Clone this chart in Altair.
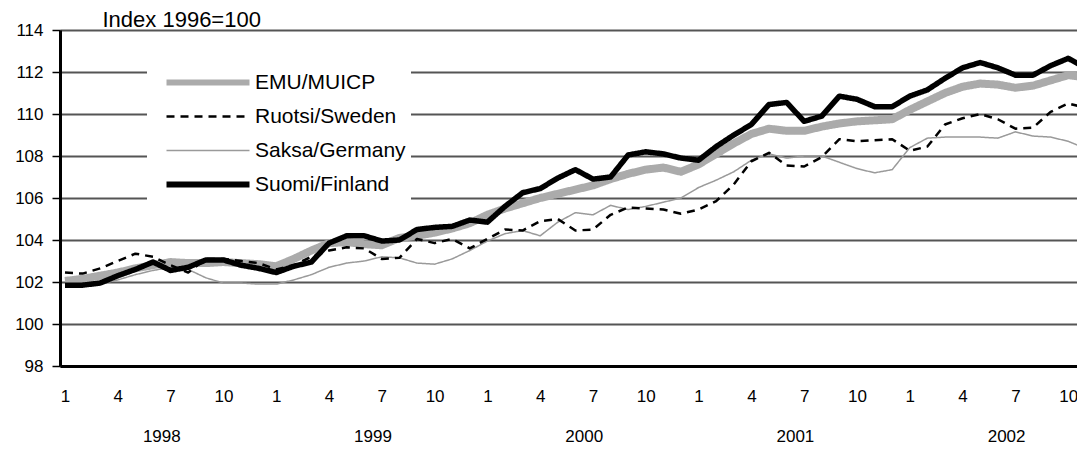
import altair as alt
import pandas as pd

series_names = ["EMU/MUICP", "Ruotsi/Sweden", "Saksa/Germany", "Suomi/Finland"]
years = [1998, 1999, 2000, 2001, 2002]
month_labels = [1, 4, 7, 10]
y_ticks = [98, 100, 102, 104, 106, 108, 110, 112, 114]

# monthly values Jan 1998 .. Nov 2002
emu = [102.05, 102.15, 102.3, 102.45, 102.65, 102.8, 102.95, 102.9, 102.9, 102.95, 102.9, 102.85,
       102.75, 103.1, 103.5, 103.85, 103.9, 103.8, 103.75, 104.1, 104.2, 104.35, 104.55, 104.8,
       105.2, 105.5, 105.75, 106.0, 106.2, 106.4, 106.6, 106.9, 107.15, 107.35, 107.45, 107.25,
       107.6, 108.1, 108.6, 109.05, 109.3, 109.2, 109.2, 109.4, 109.55, 109.65, 109.7, 109.75,
       110.2, 110.6, 111.0, 111.3, 111.45, 111.4, 111.25, 111.35, 111.6, 111.85, 111.75]
sweden = [102.45, 102.4, 102.65, 103.0, 103.35, 103.2, 102.8, 102.45, 103.1, 103.1, 103.0, 102.9,
          102.6, 102.8, 103.2, 103.5, 103.65, 103.6, 103.1, 103.15, 104.05, 103.85, 104.05, 103.6,
          104.05, 104.5, 104.45, 104.9, 105.0, 104.45, 104.5, 105.2, 105.55, 105.5, 105.45, 105.25,
          105.45, 105.85, 106.65, 107.75, 108.15, 107.55, 107.5, 107.95, 108.8, 108.7, 108.75, 108.8,
          108.25, 108.45, 109.5, 109.8, 110.0, 109.75, 109.3, 109.35, 110.1, 110.5, 110.3]
germany = [101.9, 101.85, 101.9, 102.1, 102.35, 102.55, 102.7, 102.6, 102.2, 101.95, 101.95, 101.9,
           101.9, 102.1, 102.35, 102.7, 102.9, 103.0, 103.2, 103.15, 102.9, 102.85, 103.1, 103.5,
           103.95, 104.3, 104.45, 104.2, 104.85, 105.3, 105.2, 105.65, 105.45, 105.6, 105.8, 106.0,
           106.5, 106.85, 107.25, 107.8, 108.1, 107.9, 108.0, 108.0, 107.7, 107.4, 107.2, 107.35,
           108.4, 108.85, 108.9, 108.9, 108.9, 108.85, 109.15, 108.95, 108.9, 108.7, 108.35]
finland = [101.85, 101.85, 101.95, 102.3, 102.6, 102.95, 102.55, 102.7, 103.05, 103.05, 102.8, 102.65,
           102.45, 102.75, 102.95, 103.85, 104.2, 104.2, 103.95, 104.0, 104.5, 104.6, 104.65, 104.95,
           104.85, 105.6, 106.25, 106.45, 106.95, 107.35, 106.9, 107.0, 108.05, 108.2, 108.1, 107.9,
           107.8, 108.45, 109.0, 109.5, 110.45, 110.55, 109.65, 109.9, 110.85, 110.7, 110.35, 110.35,
           110.85, 111.15, 111.7, 112.2, 112.45, 112.2, 111.85, 111.85, 112.3, 112.65, 112.2]

colors = ["#ababab", "#000000", "#9a9a9a", "#000000"]
dashes = [[1, 0], [8, 6], [1, 0], [1, 0]]
widths = [8, 2.5, 1.5, 5.5]
legend_widths = [6, 2.5, 1.5, 6]
draw_order = ["EMU/MUICP", "Saksa/Germany", "Ruotsi/Sweden", "Suomi/Finland"]

rows = []
for name, vals in zip(series_names, [emu, sweden, germany, finland]):
    for i, v in enumerate(vals):
        rows.append({"t": i, "value": v, "series": name})
df = pd.DataFrame(rows)

W, H = 1017, 336
FONT = "Liberation Sans"

names_js = "[" + ",".join("'" + s + "'" for s in series_names) + "]"
widths_js = "[" + ",".join(str(w) for w in legend_widths) + "]"
width_expr = "(" + widths_js + "[indexof(" + names_js + ", datum.value)] || 3)"

legend = alt.Legend(
    title=None, orient="none", legendX=87, legendY=37,
    fillColor="white", padding=5, symbolType="stroke", symbolSize=6889,
    symbolOffset=13, clipHeight=21,
    labelFontSize=21, labelFont=FONT, labelColor="black", labelOffset=4,
    rowPadding=12, symbolStrokeWidth=alt.ExprRef(expr=width_expr),
)

x_scale = alt.Scale(domain=[-0.284, 57.5], nice=False, zero=False)
y_scale = alt.Scale(domain=[98, 114], nice=False, zero=False)

base = alt.Chart(df).encode(
    x=alt.X("t:Q", scale=x_scale,
            axis=alt.Axis(title=None, values=list(range(0, 58, 3)),
                          labelExpr="[" + ",".join(str(m) for m in month_labels) + "][(datum.value % 12) / 3]",
                          ticks=False, grid=False, domainColor="black", domainWidth=3,
                          labelFontSize=17, labelFont=FONT, labelColor="black",
                          labelPadding=22, labelBaseline="top", labelFlush=False)),
    y=alt.Y("value:Q", scale=y_scale,
            axis=alt.Axis(title="Index 1996=100", titleAngle=0, titleAlign="left",
                          titleX=42, titleY=-4, titleBaseline="alphabetic",
                          titleFontSize=22, titleFontWeight="normal", titleFont=FONT, titleColor="black",
                          values=y_ticks, labelFontSize=17, labelFont=FONT, labelColor="black",
                          tickColor="black", tickSize=8, tickWidth=1.5, labelPadding=9,
                          domainColor="black", domainWidth=3,
                          grid=True, gridColor="#555555", gridWidth=2)),
    color=alt.Color("series:N", scale=alt.Scale(domain=series_names, range=colors), legend=legend),
    strokeDash=alt.StrokeDash("series:N", scale=alt.Scale(domain=series_names, range=dashes), legend=legend),
)

layers = []
for name in draw_order:
    w = widths[series_names.index(name)]
    layers.append(
        base.transform_filter(alt.datum.series == name)
        .mark_line(strokeWidth=w, clip=True, strokeJoin="round")
    )

year_df = pd.DataFrame({"year": years})
year_text = alt.Chart(year_df).transform_calculate(
    t="(datum.year - 1998) * 12 + 5.5"
).mark_text(fontSize=17, font=FONT, color="black", baseline="middle").encode(
    x=alt.X("t:Q", scale=x_scale),
    y=alt.value(407),
    text=alt.Text("year:N"),
)

chart = alt.layer(*layers, year_text).properties(
    width=W, height=H,
    autosize=alt.AutoSizeParams(type="none"),
    padding={"left": 52, "top": 22, "right": 0, "bottom": 80},
).configure_view(stroke=None).configure(background="white")

chart.save("out.html", embed_options={"renderer": "svg", "actions": False})
